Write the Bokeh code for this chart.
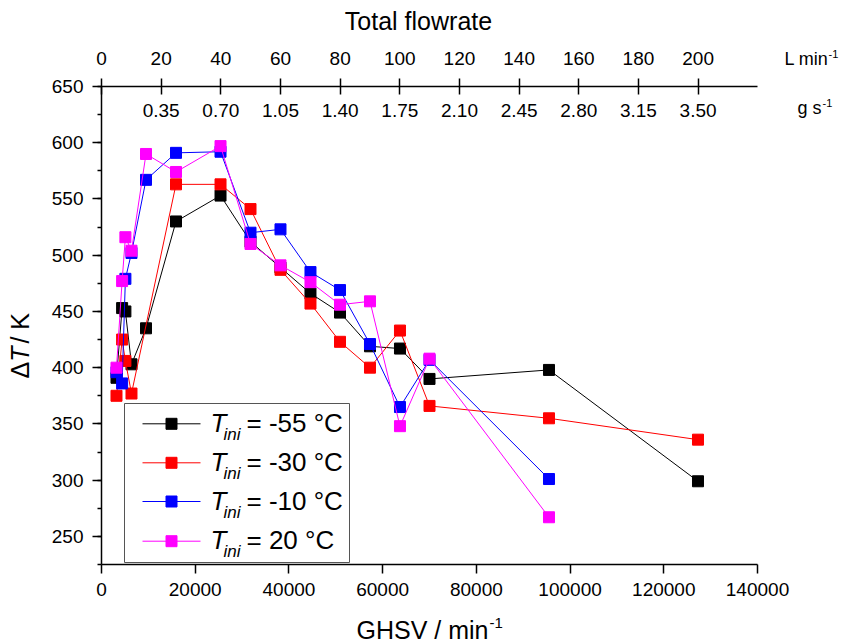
import math
from bokeh.plotting import figure
from bokeh.models import (Range1d, LinearAxis, FixedTicker, SingleIntervalTicker,
                          BasicTickFormatter, Label)
from bokeh.embed import file_html
from bokeh.resources import INLINE
from bokeh.core.properties import value

# ---------------- data ----------------
ghsv_m55 = [3200, 4400, 5100, 6400, 9500, 15900, 25400, 31800, 38200, 44600, 50900, 57300, 63700, 70000, 95500, 127300]
dT_m55 = [391, 453, 450, 403, 435, 530, 553, 512, 489, 466, 449, 419, 417, 390, 398, 299]

ghsv_m30 = [3200, 4400, 5100, 6400, 15900, 25400, 31800, 38200, 44600, 50900, 57300, 63700, 70000, 95500, 127300]
dT_m30 = [375, 425, 406, 377, 563, 563, 541, 487, 457, 423, 400, 433, 366, 355, 336]

ghsv_m10 = [3200, 4400, 5100, 6400, 9500, 15900, 25400, 31800, 38200, 44600, 50900, 57300, 63700, 70000, 95500]
dT_m10 = [396, 386, 479, 502, 567, 591, 592, 520, 523, 485, 469, 421, 365, 407, 301]

ghsv_p20 = [3200, 4400, 5100, 6400, 9500, 15900, 25400, 31800, 38200, 44600, 50900, 57300, 63700, 70000, 95500]
dT_p20 = [400, 477, 516, 504, 590, 574, 597, 510, 491, 476, 456, 459, 348, 408, 267]

temps = ["-55", "-30", "-10", "20"]
colors = ["#000000", "#ff0000", "#0000ff", "#ff00ff"]

flow_ticks = [0, 20, 40, 60, 80, 100, 120, 140, 160, 180, 200]
mass_flow_ticks = [20, 40, 60, 80, 100, 120, 140, 160, 180, 200]
mass_flow_labels = ["0.35", "0.70", "1.05", "1.40", "1.75", "2.10", "2.45", "2.80", "3.15", "3.50"]
GHSV_PER_LMIN = 636.62
X_MIN, X_MAX = 0, 140000
Y_MIN, Y_MAX = 225, 650

series = [(ghsv_m55, dT_m55), (ghsv_m30, dT_m30), (ghsv_m10, dT_m10), (ghsv_p20, dT_p20)]

# ---------------- layout (page pixels) ----------------
FONT = "Liberation Sans"
W, H = 845, 644
CX0, CY0 = 0, 0                 # canvas top-left on the page
AX_L, AX_R = 101, 757           # page x of X_MIN / X_MAX
AX_T, AX_B = 86, 564            # page y of Y_MAX / Y_MIN

xs_per_px = (X_MAX - X_MIN) / (AX_R - AX_L)
ys_per_px = (Y_MAX - Y_MIN) / (AX_B - AX_T)
x_start = X_MIN - (AX_L - CX0) * xs_per_px
x_end = X_MAX + (CX0 + W - AX_R) * xs_per_px
y_end = Y_MAX + (AX_T - CY0) * ys_per_px
y_start = Y_MIN - (CY0 + H - AX_B) * ys_per_px


def fx(px):
    return px - CX0


def fy(py):
    return CY0 + H - py


def fyb(py, size):
    # frame y for a wanted page baseline (compensates the renderer's baseline offset)
    return fy(py - 0.4 * size)


p = figure(width=W, height=H, output_backend="svg", toolbar_location=None,
           x_range=Range1d(x_start, x_end), y_range=Range1d(y_start, y_end),
           min_border=0, min_border_left=0, min_border_right=0,
           min_border_top=0, min_border_bottom=0,
           x_axis_type=None, y_axis_type=None)
p.outline_line_color = None
p.background_fill_color = "white"
p.border_fill_color = "white"
p.extra_x_ranges = {"flow": Range1d(x_start / GHSV_PER_LMIN, x_end / GHSV_PER_LMIN),
                    "px": Range1d(0, W)}
p.extra_y_ranges = {"py": Range1d(0, H)}


def style_axis(ax):
    ax.axis_line_color = "black"
    ax.axis_line_width = 1.5
    ax.major_tick_line_color = "black"
    ax.major_tick_line_width = 1.5
    ax.minor_tick_line_color = "black"
    ax.minor_tick_line_width = 1.5
    ax.major_label_text_font = FONT
    ax.major_label_text_font_size = "19px"
    ax.major_label_text_color = "black"


# bottom axis
xb = LinearAxis(ticker=SingleIntervalTicker(interval=20000, num_minor_ticks=0),
                formatter=BasicTickFormatter(use_scientific=False),
                fixed_location=Y_MIN, bounds=(X_MIN, X_MAX))
style_axis(xb)
xb.major_tick_in = 0
xb.major_tick_out = 9
xb.major_label_standoff = 9
p.add_layout(xb, "below")

# left axis
yl = LinearAxis(ticker=SingleIntervalTicker(interval=50, num_minor_ticks=2),
                fixed_location=X_MIN, bounds=(Y_MIN, Y_MAX))
style_axis(yl)
yl.major_tick_in = 0
yl.major_tick_out = 9
yl.minor_tick_in = 0
yl.minor_tick_out = 4
yl.major_label_standoff = 9
p.add_layout(yl, "left")

# top axis (volumetric flow)
xt = LinearAxis(x_range_name="flow", ticker=FixedTicker(ticks=flow_ticks, minor_ticks=[]),
                fixed_location=Y_MAX, bounds=(X_MIN / GHSV_PER_LMIN, X_MAX / GHSV_PER_LMIN))
style_axis(xt)
xt.major_tick_in = 8
xt.major_tick_out = 8
xt.major_label_standoff = 14
p.add_layout(xt, "above")

# ---------------- data series ----------------
for (xs, ys), c in zip(series, colors):
    p.line(xs, ys, line_color=c, line_width=1)
    p.scatter(xs, ys, marker="square", size=11, fill_color=c, line_color=c)

# mass flow labels under the top axis
p.text(x=mass_flow_ticks, y=[fyb(118, 19)] * len(mass_flow_ticks), text=mass_flow_labels,
       x_range_name="flow", y_range_name="py",
       text_font=value(FONT), text_font_size="19px", text_align="center",
       text_baseline="alphabetic", text_color="black")

# ---------------- legend ----------------
p.quad(left=[fx(124)], right=[fx(349)], top=[fy(403)], bottom=[fy(562)],
       x_range_name="px", y_range_name="py",
       fill_color="white", line_color="#555555", line_width=1)
centers = [423.3, 462.3, 501.0, 540.7]
for cyp, c, t in zip(centers, colors, temps):
    cy = fy(cyp)
    p.segment(x0=[fx(142)], y0=[cy], x1=[fx(200)], y1=[cy], x_range_name="px", y_range_name="py",
              line_color=c, line_width=1)
    p.scatter([fx(171)], [cy], marker="square", size=11, fill_color=c, line_color=c,
              x_range_name="px", y_range_name="py")
    p.text(x=[fx(210)], y=[fyb(cyp + 9.5, 26)], text=["T"], x_range_name="px", y_range_name="py",
           text_font=value(FONT), text_font_size="26px", text_font_style="italic",
           text_baseline="alphabetic", text_color="black")
    p.text(x=[fx(223)], y=[fyb(cyp + 17.5, 17)], text=["ini"], x_range_name="px", y_range_name="py",
           text_font=value(FONT), text_font_size="17px", text_font_style="italic",
           text_baseline="alphabetic", text_color="black")
    p.text(x=[fx(246)], y=[fyb(cyp + 9.5, 26)], text=["= " + t + " °C"], x_range_name="px",
           y_range_name="py", text_font=value(FONT), text_font_size="26px",
           text_baseline="alphabetic", text_color="black")


# ---------------- texts around the axes ----------------
def add_label(x, y, text, size, style="normal", align="left", angle=0.0):
    p.add_layout(Label(x=x, y=y, x_units="screen", y_units="screen", text=text,
                       text_font=FONT, text_font_size="%dpx" % size, text_font_style=style,
                       text_align=align, text_baseline="alphabetic", angle=angle,
                       text_color="black"))


add_label(fx(418), fyb(30, 25), "Total flowrate", 25, align="center")
add_label(fx(784), fyb(66, 18), "L min", 18)
add_label(fx(784) + 2.445 * 18, fyb(58, 11), "-1", 11)
add_label(fx(797), fyb(115, 18), "g s", 18)
add_label(fx(797) + 1.334 * 18 + 1, fyb(107, 11), "-1", 11)

# x-axis label
add_label(fx(356), fyb(639, 25), "GHSV / min", 25)
add_label(fx(356) + 5.279 * 25 + 1, fyb(628, 15), "-1", 15)

# y-axis label (rotated)
yb = fy(378)
add_label(fx(19), yb, "\u0394", 25, angle=math.pi / 2)
add_label(fx(19), yb + 0.668 * 25, "T", 25, style="italic", angle=math.pi / 2)
add_label(fx(19), yb + (0.668 + 0.611) * 25 + 3, " / K", 25, angle=math.pi / 2)

open("out.html", "w").write(file_html(p, INLINE))
